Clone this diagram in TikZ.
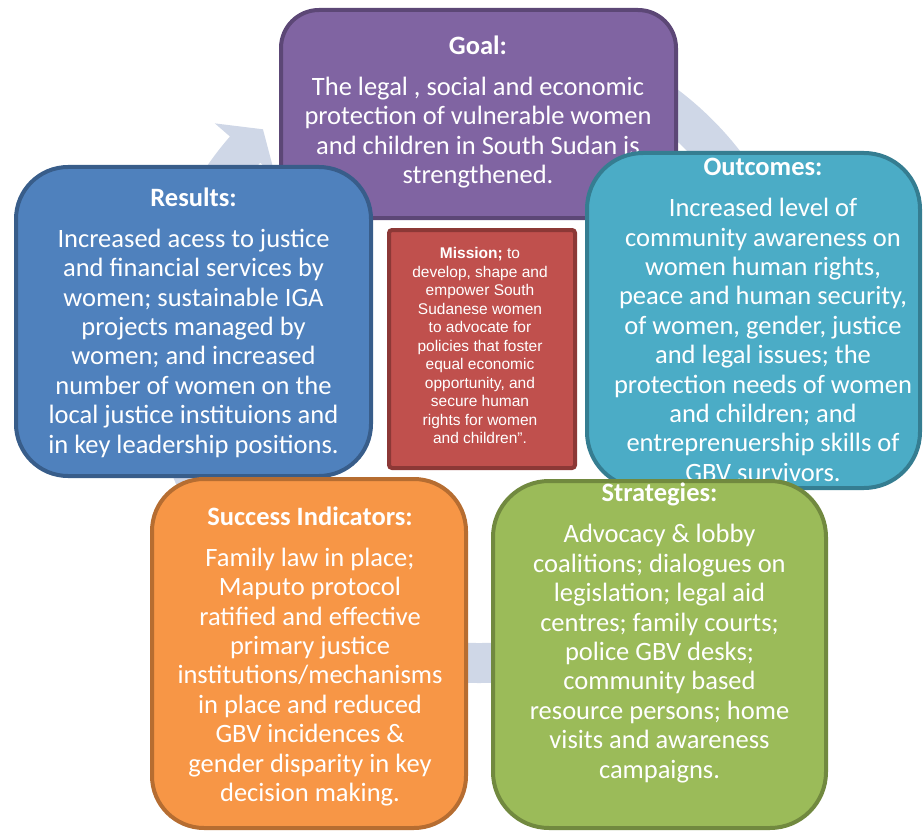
\documentclass[tikz,border=0pt]{standalone}
\usepackage{fontspec}
\setmainfont{Carlito}
\newfontfamily\arialfont{Liberation Sans}
\usepackage{xcolor}
\usepackage{tikz}
\usetikzlibrary{positioning}

\definecolor{ringfill}{RGB}{207,215,231}
\definecolor{goalfill}{RGB}{128,100,162}
\definecolor{goalline}{RGB}{92,71,118}
\definecolor{resfill}{RGB}{79,129,189}
\definecolor{resline}{RGB}{56,93,138}
\definecolor{outcfill}{RGB}{75,172,198}
\definecolor{outcline}{RGB}{53,125,145}
\definecolor{sucfill}{RGB}{247,150,70}
\definecolor{sucline}{RGB}{182,109,49}
\definecolor{stratfill}{RGB}{155,187,89}
\definecolor{stratline}{RGB}{113,137,63}
\definecolor{misfill}{RGB}{192,80,77}
\definecolor{misline}{RGB}{140,56,54}

\begin{document}
\begin{tikzpicture}[x=1pt, y=-1pt,
  box/.style={rectangle, draw, line width=4pt, inner sep=0pt},
  txt/.style={text=white, align=center, inner sep=0pt,
    font=\fontsize{26.5}{29.4}\selectfont}]
\useasboundingbox (0,0) rectangle (924,832);
% Cycle arrow behind the boxes
\begin{scope}[shift={(479,353)}]
  \fill[ringfill] (-85:290) arc[start angle=-85, end angle=221, radius=290]
    -- (221:270) -- (226:311) -- (221:350) -- (221:330)
    arc[start angle=221, end angle=-85, radius=330] -- cycle;
\end{scope}
% Goal
\node[box, draw=goalline, fill=goalfill, rounded corners=38pt,
  minimum width=395pt, minimum height=208pt] (goal) at (478.5,114) {};
\node[txt] (goaltxt) at (478,112) {\textbf{Goal:}\\[11.5pt]The legal , social and economic\\
  protection of vulnerable women\\and children in South Sudan is\\strengthened.};
% Results
\node[box, draw=resline, fill=resfill, rounded corners=52pt,
  minimum width=355pt, minimum height=309pt] (results) at (193.5,321.5) {};
\node[txt] (restxt) at (193.5,322.5) {\textbf{Results:}\\[11.5pt]Increased acess to justice\\
  and financial services by\\women; sustainable IGA\\projects managed by\\
  women; and increased\\number of women on the\\local justice instituions and\\
  in key leadership positions.};
% Outcomes
\node[box, draw=outcline, fill=outcfill, rounded corners=56pt,
  minimum width=333pt, minimum height=335pt] (outcomes) at (753.5,320.5) {};
\node[txt] (outctxt) at (763,320) {\textbf{Outcomes:}\\[11.5pt]Increased level of\\
  community awareness on\\women human rights,\\peace and human security,\\
  of women, gender, justice\\and legal issues; the\\protection needs of women\\
  and children; and\\entreprenuership skills of\\GBV survivors.};
% Success indicators
\node[box, draw=sucline, fill=sucfill, rounded corners=52pt,
  minimum width=314pt, minimum height=349pt] (success) at (309,653.5) {};
\node[txt] (suctxt) at (310,656.5) {\textbf{Success Indicators:}\\[11.5pt]Family law in place;\\
  Maputo protocol\\ratified and effective\\primary justice\\institutions/mechanisms\\
  in place and reduced\\GBV incidences \&\\gender disparity in key\\decision making.};
% Strategies
\node[box, draw=stratline, fill=stratfill, rounded corners=56pt,
  minimum width=333pt, minimum height=347pt] (strategies) at (659.5,654.5) {};
\node[txt] (strattxt) at (659.5,633) {\textbf{Strategies:}\\[11.5pt]Advocacy \& lobby\\
  coalitions; dialogues on\\legislation; legal aid\\centres; family courts;\\
  police GBV desks;\\community based\\resource persons; home\\
  visits and awareness\\campaigns.};
% Mission in the middle
\node[box, draw=misline, fill=misfill, rounded corners=3pt,
  minimum width=186pt, minimum height=238pt] (mission) at (482,349) {};
\node[txt, font=\arialfont\fontsize{15.5}{18.5}\selectfont] (mistxt) at (480,345.5)
  {\textbf{Mission;} to\\develop, shape and\\empower South\\Sudanese women\\
  to advocate for\\policies that foster\\equal economic\\opportunity, and\\
  secure human\\rights for women\\and children”.};
\end{tikzpicture}
\end{document}
